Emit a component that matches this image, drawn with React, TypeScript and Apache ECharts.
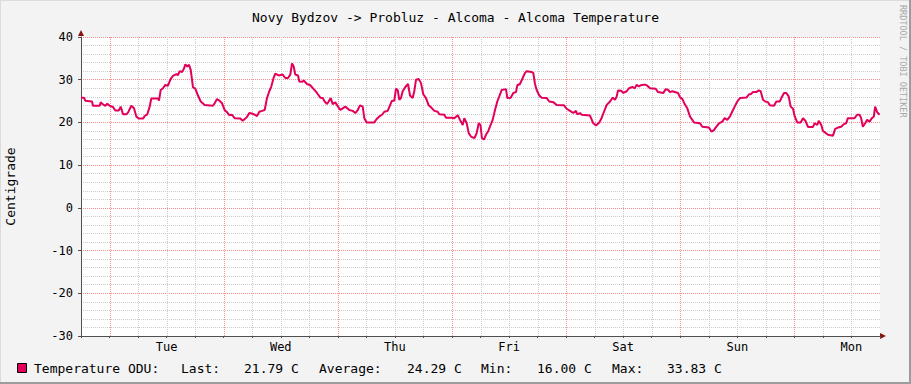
import { useEffect, useRef } from 'react';
import * as echarts from 'echarts';

const titleText = 'Novy Bydzov -> Probluz - Alcoma - Alcoma Temperature';
const yAxisName = 'Centigrade';
const dayNames = ['Mon', 'Tue', 'Wed', 'Thu', 'Fri', 'Sat', 'Sun', 'Mon'];
const seriesName = 'Temperature ODU:';
const statLabels = ['Last:', 'Average:', 'Min:', 'Max:'];
const statValues = ['21.79 C', '24.29 C', '16.00 C', '33.83 C'];
const watermark = 'RRDTOOL / TOBI OETIKER';
// vertical grid: midnights are major lines, every 6 hours minor lines
const majorGridHours = [24, 48, 72, 96, 120, 144, 168];
const minorGridHours = [
  30, 36, 42, 54, 60, 66, 78, 84, 90, 102, 108, 114, 126, 132, 138, 150, 156, 162, 174, 180,
];

// hours counted from Monday 00:00
const hours = [
  18.0, 18.63, 18.9, 20.31, 20.52, 21.93, 22.14, 22.63, 23.11, 23.53, 24.03, 24.73, 25.21, 25.93, 26.35, 26.83, 27.53, 27.88, 28.58, 29.14,
  29.63, 30.13, 31.04, 31.39, 31.94, 32.44, 32.78, 34.19, 34.4, 34.76, 35.24, 35.72, 36.29, 36.86, 37.34, 38.04, 38.4, 38.75, 39.24, 39.66,
  39.93, 40.35, 40.71, 41.07, 41.55, 42.03, 42.6, 43.17, 44.01, 45.75,
  46.11, 46.6, 47.09, 47.65, 48.21, 48.7, 49.19, 49.75, 50.31, 51.5, 52.0, 52.55, 52.9, 53.39, 53.95, 54.52, 55.01, 55.49, 56.06, 56.62,
  57.11, 57.59, 58.01, 58.52, 58.85, 59.57, 60.41, 60.96, 61.52, 62.01, 62.37, 62.72, 63.06, 63.63, 63.9, 64.47, 64.82, 65.52, 66.21, 66.93,
  67.62, 68.32, 68.82, 69.24, 69.72, 70.08, 70.5, 70.92, 71.47, 72.04, 72.53, 73.03, 73.58,
  73.72, 74.42, 75.13, 75.68, 76.18, 76.66, 77.23, 77.57, 78.07, 79.67, 80.17, 80.73, 81.29, 81.78, 82.49, 82.97, 83.39, 83.88, 84.23, 84.59,
  84.93, 85.28, 85.64, 86.19, 86.76, 87.18, 87.74, 88.08, 88.44, 89.0, 89.49, 89.97, 90.54, 91.11, 91.8, 92.29, 93.0, 93.34, 94.39, 94.75,
  96.01, 96.5, 97.21, 97.69, 98.26, 98.59, 99.1, 99.52, 100.0, 100.7, 101.2, 101.62, 102.0, 102.3, 102.73,
  103.15, 103.64, 104.14, 104.56, 105.05, 105.53, 105.95, 106.46, 107.36, 107.64, 108.35, 108.9, 109.46, 109.74, 110.3, 110.87, 111.36, 111.71, 112.76, 113.1,
  113.46, 113.81, 114.36, 114.87, 115.92, 116.47, 117.31, 118.02, 119.56, 120.12, 120.82, 121.51, 122.08, 122.35, 122.92, 123.28, 125.02, 125.72, 126.29, 126.98,
  127.49, 127.97, 128.54, 129.24, 129.81, 130.29,
  130.64, 130.91, 131.61, 132.03, 132.74, 133.22, 133.92, 134.42, 134.84, 135.33, 135.68, 136.23, 136.73, 137.07, 137.64, 138.84, 139.32, 140.44, 140.94, 141.42,
  141.84, 142.33, 143.53, 143.95, 144.43, 144.93, 145.48, 146.05, 146.54, 146.89, 148.15, 148.64, 150.04, 150.53, 151.09, 151.45, 152.15, 152.84, 153.34, 153.89,
  154.46, 154.94, 155.45, 155.99, 156.56, 157.97, 158.46,
  158.81, 159.3, 159.99, 160.49, 160.91, 161.4, 161.88, 162.45, 162.81, 163.71, 164.2, 164.91, 165.25, 165.82, 166.3, 166.8, 167.22, 167.71, 168.07, 168.61,
  169.32, 169.81, 170.3, 170.86, 171.91, 172.26, 172.81, 173.11, 173.65, 174.01, 174.5, 175.06, 176.11, 176.57, 177.17, 177.83, 178.4, 178.88, 179.24, 180.65,
  181.19, 181.7, 182.04, 182.39, 182.88, 183.3, 183.8, 184.29, 184.71, 184.98, 185.4, 185.9,
];

const temps = [
  25.8, 25.8, 25.1, 24.9, 23.9, 23.9, 24.7, 24.2, 23.9, 24.4, 23.9, 23.6, 22.8, 22.8, 23.7, 21.9, 21.9, 22.3, 23.9, 23.3,
  21.4, 20.9, 20.9, 21.5, 21.9, 23.7, 25.6, 25.6, 25.1, 27.6, 28.0, 28.8, 28.6, 30.2, 30.9, 31.3, 31.1, 32.0, 31.8, 32.6,
  33.6, 33.1, 33.5, 32.3, 28.2, 27.9, 26.3, 24.9, 24.1, 23.9,
  24.5, 25.5, 25.1, 24.5, 22.9, 22.4, 21.7, 21.8, 21.0, 20.9, 20.4, 20.9, 21.3, 22.2, 22.1, 21.8, 21.5, 22.5, 22.7, 22.9,
  25.7, 27.3, 28.4, 30.5, 31.4, 31.0, 31.2, 30.4, 30.4, 31.2, 33.83, 33.1, 31.2, 31.0, 29.6, 29.5, 29.8, 29.0, 28.7, 27.8,
  26.9, 25.8, 25.7, 24.9, 24.3, 24.9, 25.7, 24.3, 24.7, 23.7, 22.9, 23.3, 23.7,
  23.7, 22.9, 22.7, 22.2, 22.9, 24.0, 23.7, 21.0, 20.0, 20.0, 20.8, 21.4, 21.8, 22.5, 22.7, 24.0, 25.1, 25.1, 27.9, 27.6,
  25.3, 25.7, 27.3, 28.3, 29.0, 26.3, 25.7, 27.3, 30.0, 30.2, 29.2, 26.6, 25.7, 24.0, 23.3, 22.7, 22.5, 21.9, 21.8, 21.1,
  21.1, 21.0, 21.7, 20.6, 19.4, 21.0, 19.8, 17.5, 16.7, 16.3, 17.5, 19.8, 19.4, 16.3, 16.0,
  17.1, 18.0, 19.4, 20.6, 22.9, 24.9, 26.1, 27.6, 27.8, 25.7, 25.8, 26.9, 27.1, 28.7, 29.0, 30.4, 31.6, 32.0, 31.8, 31.6,
  29.0, 27.6, 26.3, 25.8, 25.7, 24.9, 24.75, 24.1, 24.0, 23.2, 22.7, 22.2, 22.7, 21.9, 22.2, 21.8, 21.6, 19.8, 19.3, 20.0,
  21.1, 22.5, 24.1, 24.9, 25.8, 25.3,
  26.1, 27.5, 27.4, 26.9, 27.3, 28.0, 28.3, 28.0, 28.8, 28.4, 28.7, 28.8, 28.8, 28.6, 28.0, 27.9, 27.1, 26.9, 27.8, 27.65,
  27.1, 27.3, 26.9, 25.85, 25.5, 24.3, 23.3, 21.4, 20.6, 20.0, 19.8, 19.0, 18.8, 17.85, 18.2, 18.8, 19.8, 20.2, 21.0, 20.6,
  21.4, 22.55, 23.7, 24.9, 25.7, 25.85, 26.6,
  26.6, 27.1, 27.1, 27.5, 27.3, 25.3, 24.9, 24.75, 24.0, 23.9, 24.9, 24.9, 25.7, 26.9, 26.9, 26.1, 23.7, 23.2, 21.4, 20.0,
  20.0, 21.0, 20.4, 18.95, 18.95, 19.8, 19.4, 20.4, 19.4, 18.0, 17.6, 17.1, 16.9, 18.5, 18.8, 19.0, 19.6, 19.8, 21.0, 21.0,
  21.8, 21.8, 21.0, 19.0, 19.8, 20.6, 20.2, 21.0, 21.4, 23.7, 22.4, 21.79,
];

export default function App() {
  const ref = useRef<HTMLDivElement>(null);

  useEffect(() => {
    const el = ref.current;
    if (!el) return;
    const chart = echarts.init(el, null, { renderer: 'svg' });
    const mono = 'DejaVu Sans Mono';
    const lineColor = '#e2005a';
    const axisColor = '#505050';
    const minorGrid = '#cccccc';
    const majorGrid = '#ff8c8c';
    const data = hours.map((h, i) => [h, temps[i]]);

    const vGridSeries = (list: number[], color: string, z: number) => ({
      type: 'custom',
      silent: true,
      z,
      clip: false,
      data: list.map((h) => [h, 0]),
      renderItem: (params: any, api: any) => {
        const cs = params.coordSys;
        const x = Math.round(api.coord([api.value(0), api.value(1)])[0]) + 0.5;
        return {
          type: 'line',
          shape: { x1: x, y1: cs.y, x2: x, y2: cs.y + cs.height },
          style: { stroke: color, lineWidth: 1, lineDash: [1, 1] },
        };
      },
    });

    const legendY = 368;
    const legendText = (text: string, x: number) => ({
      type: 'text',
      x,
      y: legendY,
      silent: true,
      style: { text, fill: '#000', font: `13px "${mono}"`, textAlign: 'left', textVerticalAlign: 'middle' },
    });
    const statLabelX = [181, 319, 481, 612];
    const statValueX = [244, 407, 537, 667];

    const option: any = {
      animation: false,
      backgroundColor: '#f3f3f3',
      title: {
        text: titleText,
        left: 'center',
        top: 6,
        textStyle: { fontFamily: mono, fontSize: 13, fontWeight: 'normal', color: '#000' },
      },
      grid: {
        left: 81,
        right: 31,
        top: 37,
        bottom: 48,
        show: true,
        backgroundColor: '#ffffff',
        borderWidth: 0,
        containLabel: false,
        outerBoundsMode: 'none',
      },
      xAxis: {
        type: 'value',
        min: 18,
        max: 186,
        interval: 6,
        axisLine: { show: true, onZero: false, lineStyle: { color: axisColor, width: 1 } },
        axisTick: { show: true, length: 2, lineStyle: { color: axisColor } },
        axisLabel: {
          formatter: (v: number) => ((v - 12) % 24 === 0 ? dayNames[Math.floor(v / 24)] : ''),
          fontFamily: mono,
          fontSize: 12,
          color: '#000',
          margin: 5,
        },
        splitLine: { show: false },
      },
      yAxis: {
        type: 'value',
        min: -30,
        max: 40,
        interval: 10,
        name: yAxisName,
        nameLocation: 'middle',
        nameGap: 64,
        nameTextStyle: { fontFamily: mono, fontSize: 13, color: '#000' },
        axisLine: { show: true, onZero: false, lineStyle: { color: axisColor, width: 1 } },
        axisTick: { show: true, length: 3, lineStyle: { color: axisColor } },
        axisLabel: { fontFamily: mono, fontSize: 12, color: '#000', margin: 8 },
        splitLine: { show: true, lineStyle: { color: majorGrid, type: [1, 1], width: 1 } },
        minorTick: { show: false, splitNumber: 5 },
        minorSplitLine: { show: true, lineStyle: { color: minorGrid, type: [1, 1], width: 1 } },
      },
      series: [
        vGridSeries(minorGridHours, minorGrid, 1),
        vGridSeries(majorGridHours, majorGrid, 2),
        {
          name: seriesName,
          type: 'line',
          data,
          z: 3,
          symbol: 'none',
          showSymbol: false,
          silent: true,
          lineStyle: { color: lineColor, width: 2 },
        },
      ],
      graphic: [
        // frame shading
        { type: 'line', silent: true, shape: { x1: 910, y1: 0, x2: 910, y2: 384 }, style: { stroke: '#9c9c9c', lineWidth: 2 } },
        { type: 'line', silent: true, shape: { x1: 0, y1: 383, x2: 911, y2: 383 }, style: { stroke: '#9c9c9c', lineWidth: 2 } },
        { type: 'line', silent: true, shape: { x1: 0.5, y1: 0, x2: 0.5, y2: 382 }, style: { stroke: '#dcdcdc', lineWidth: 1 } },
        { type: 'line', silent: true, shape: { x1: 0, y1: 0.5, x2: 909, y2: 0.5 }, style: { stroke: '#dcdcdc', lineWidth: 1 } },
        // axis arrows
        { type: 'polygon', silent: true, shape: { points: [[78, 36], [84, 36], [81, 30]] }, style: { fill: '#8b1010' } },
        { type: 'polygon', silent: true, shape: { points: [[880, 333], [880, 339], [886, 336]] }, style: { fill: '#8b1010' } },
        // legend
        { type: 'rect', silent: true, shape: { x: 17.5, y: 363.5, width: 9, height: 9 }, style: { fill: lineColor, stroke: '#000', lineWidth: 1 } },
        legendText(seriesName, 34),
        ...statLabels.map((t, i) => legendText(t, statLabelX[i])),
        ...statValues.map((t, i) => legendText(t, statValueX[i])),
        // watermark
        {
          type: 'text',
          x: 903,
          y: 5,
          rotation: -Math.PI / 2,
          silent: true,
          style: { text: watermark, fill: '#a8a8a8', font: `8.5px "${mono}"`, textAlign: 'left', textVerticalAlign: 'middle' },
        },
      ],
    };

    chart.setOption(option);
    return () => chart.dispose();
  }, []);

  return <div ref={ref} style={{ position: 'absolute', left: 0, top: 0, width: 911, height: 384 }} />;
}
